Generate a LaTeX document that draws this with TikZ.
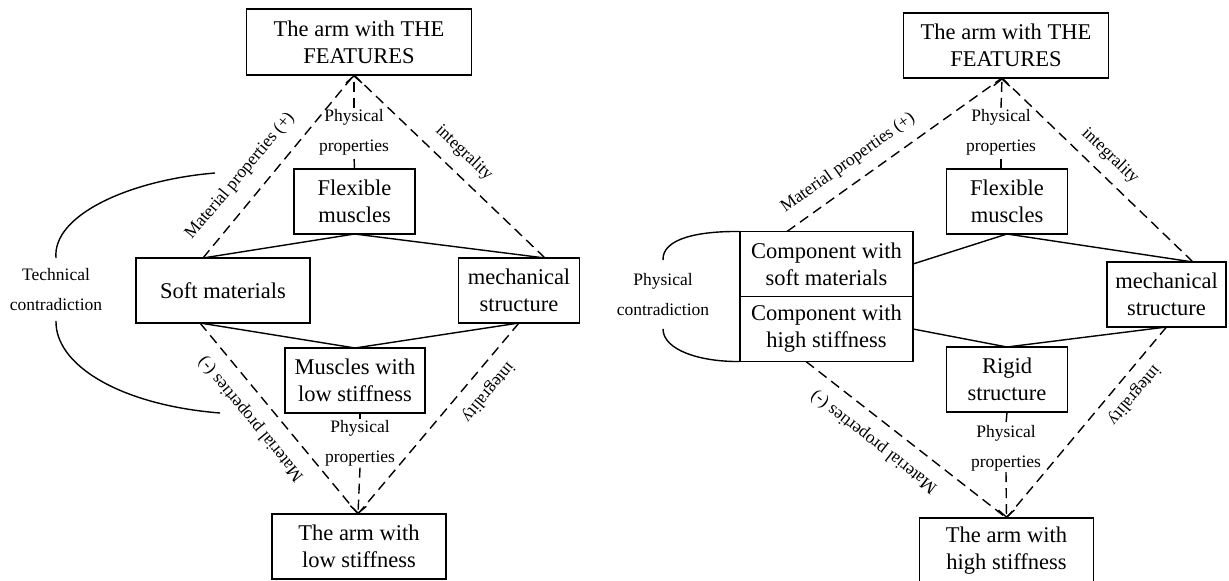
\documentclass[tikz,border=0pt]{standalone}
\usepackage{fontspec}
\setmainfont{Liberation Serif}
\usetikzlibrary{arrows.meta,positioning}

\begin{document}
\begin{tikzpicture}[x=1pt,y=1pt,
    box/.style={draw, line width=1.6pt, outer sep=0pt, inner sep=0pt, align=center, font=\fontsize{22.5}{27}\selectfont},
    lbl/.style={align=center, inner sep=1pt, font=\fontsize{17.5}{30}\selectfont},
    link/.style={line width=1.4pt},
    dlink/.style={line width=1.4pt, dash pattern=on 10pt off 6pt},
    headarr/.style={-{Straight Barb[length=7pt,width=16pt,line width=1.4pt]}}]
  \useasboundingbox (0,0) rectangle (1229,-581);
  \clip (0,0) rectangle (1229,-581);

  % left diagram
  \node[box, minimum width=225, minimum height=66] (topL) at (359,-42) {The arm with THE\\FEATURES};
  \node[box, minimum width=121, minimum height=65] (flexL) at (354.5,-201.5) {Flexible\\muscles};
  \node[box, minimum width=173.5, minimum height=65] (softL) at (223,-290.5) {Soft materials};
  \node[box, minimum width=121, minimum height=65] (mechL) at (519,-290.5) {mechanical\\structure};
  \node[box, minimum width=140.5, minimum height=65] (lowmL) at (355,-380.5) {Muscles with\\low stiffness};
  \node[box, minimum width=174, minimum height=65] (botL) at (359,-546.5) {The arm with\\low stiffness};
  \coordinate (apexL) at ([xshift=-5pt]topL.south);
  \coordinate (tipL) at ([xshift=-1pt]botL.north);

  \node[lbl] (physL) at (354,-132) {Physical\\properties};
  \node[lbl] (phys2L) at (360,-443.5) {Physical\\properties};
  \node[lbl, rotate=50] (matpL) at (240,-176) {Material properties (+)};
  \node[lbl, rotate=-43.5] (intL) at (464,-153) {integrality};
  \node[lbl, rotate=129.7] (matmL) at (251,-419) {Material properties (-)};
  \node[lbl, rotate=-130] (int2L) at (488,-392) {integrality};
  \node[lbl, inner ysep=10pt] (techL) at (56,-289.5) {Technical\\contradiction};

  \draw[link] ([xshift=-20pt]softL.north) -- (flexL.south) -- ([xshift=26pt]mechL.north);
  \draw[link] ([xshift=-23pt]softL.south) -- (lowmL.north) -- (mechL.south);
  \draw[dlink] ([xshift=-20pt]softL.north) -- (apexL);
  \draw[dlink] ([xshift=26pt]mechL.north) -- (apexL);
  \draw[dlink] (flexL.north) -- (physL.south);
  \draw[dlink, headarr] (physL.north) -- (apexL);
  \draw[dlink] ([xshift=-23pt]softL.south) -- (tipL);
  \draw[dlink] (mechL.south) -- (tipL);
  \draw[dlink] (lowmL.south -| phys2L) -- (phys2L.north);
  \draw[dlink, headarr] (phys2L.south) -- (tipL);

  \coordinate (tcTop) at (215,-173);
  \coordinate (tcBot) at (220,-413);
  \draw[link] (tcTop) .. controls (130,-180) and (52,-215) .. (techL.north);
  \draw[link] (techL.south) .. controls (55,-365) and (120,-405) .. (tcBot);

  % right diagram
  \node[box, minimum width=205, minimum height=65] (topR) at (1006,-45.5) {The arm with THE\\FEATURES};
  \node[box, minimum width=121, minimum height=65] (flexR) at (1007,-201.5) {Flexible\\muscles};
  \node[box, minimum width=173, minimum height=65] (compS) at (826.5,-264) {Component with\\soft materials};
  \node[box, minimum width=173, minimum height=65, below=0pt of compS] (compH) {Component with\\high stiffness};
  \node[box, minimum width=119, minimum height=65] (mechR) at (1166.5,-294.5) {mechanical\\structure};
  \node[box, minimum width=121, minimum height=65] (rigR) at (1007,-379.5) {Rigid\\structure};
  \node[box, minimum width=174, minimum height=65] (botR) at (1006.5,-550.5) {The arm with\\high stiffness};
  \coordinate (apexR) at ([xshift=-4pt]topR.south);
  \coordinate (tipR) at (botR.north);

  \node[lbl] (physR) at (1001,-132) {Physical\\properties};
  \node[lbl] (phys2R) at (1006,-448) {Physical\\properties};
  \node[lbl, rotate=35.3] (matpR) at (848,-163) {Material properties (+)};
  \node[lbl, rotate=-43.8] (intR) at (1110,-156) {integrality};
  \node[lbl, rotate=142] (matmR) at (874,-442) {Material properties (-)};
  \node[lbl, rotate=-130] (int2R) at (1134,-395) {integrality};
  \node[lbl, inner ysep=13pt] (physC) at (663,-294.5) {Physical\\contradiction};

  \draw[link] (compS.east) -- (flexR.south) -- ([xshift=26.5pt]mechR.north);
  \draw[link] (compH.east) -- (rigR.north) -- (mechR.south);
  \draw[dlink] ([xshift=-39.5pt]compS.north) -- (apexR);
  \draw[dlink] ([xshift=26.5pt]mechR.north) -- (apexR);
  \draw[dlink] (flexR.north -| physR) -- (physR.south);
  \draw[dlink, headarr] (physR.north) -- (apexR);
  \draw[dlink] ([xshift=-20.5pt]compH.south) -- (tipR);
  \draw[dlink] (mechR.south) -- (tipR);
  \draw[dlink] (rigR.south) -- (phys2R.north);
  \draw[dlink, headarr] (phys2R.south) -- (tipR);

  \draw[link] (compS.north west) .. controls (700,-231) and (662,-238) .. (physC.north);
  \draw[link] (physC.south) .. controls (663,-350) and (700,-362) .. (compH.south west);
\end{tikzpicture}
\end{document}
